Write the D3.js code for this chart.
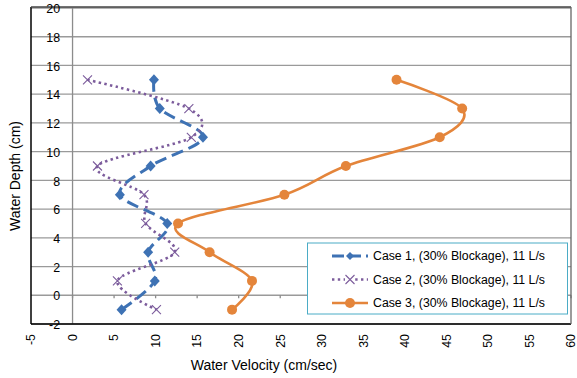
<!DOCTYPE html>
<html>
<head>
<meta charset="utf-8">
<script src="https://cdn.jsdelivr.net/npm/d3@7"></script>
<style>
  body { margin: 0; background: #fff; }
  svg { display: block; font-family: 'Liberation Sans', Arial, sans-serif; }
  .tick-label { font-size: 12.4px; fill: #000; }
  .axis-title { font-size: 14px; fill: #000; }
  .legend-text { font-size: 12.3px; fill: #000; }
</style>
</head>
<body>
<svg id="chart" width="577" height="378"></svg>
<script>
const depths = [15, 13, 11, 9, 7, 5, 3, 1, -1];
const case1 = [9.8, 10.5, 15.7, 9.4, 5.7, 11.4, 9.1, 9.9, 5.9];
const case2 = [1.8, 14.0, 14.3, 3.0, 8.6, 8.8, 12.3, 5.4, 10.1];
const case3 = [39.0, 46.9, 44.2, 32.9, 25.5, 12.7, 16.5, 21.6, 19.2];
const seriesNames = [
  'Case 1, (30% Blockage), 11 L/s',
  'Case 2, (30% Blockage), 11 L/s',
  'Case 3, (30% Blockage), 11 L/s'
];
const xTicks = d3.range(-5, 61, 5);
const yTicks = d3.range(-2, 21, 2);

const plotLeft = 31, plotRight = 571, plotTop = 8, plotBottom = 324;

const colors = ['#3e72b4', '#7c5c9c', '#e4853b'];

const xscale = d3.scaleLinear().domain([-5, 60]).range([plotLeft, plotRight]);
const yscale = d3.scaleLinear().domain([-2, 20]).range([plotBottom, plotTop]);

const svg = d3.select('#chart');

// horizontal gridlines
svg.append('g')
  .selectAll('line')
  .data(yTicks)
  .enter()
  .append('line')
  .attr('x1', plotLeft)
  .attr('x2', plotRight)
  .attr('y1', (d) => yscale(d))
  .attr('y2', (d) => yscale(d))
  .attr('stroke', '#9a9a9a')
  .attr('stroke-width', 1.3)

// vertical axis at x = 0
svg.append('line')
  .attr('x1', xscale(0))
  .attr('x2', xscale(0))
  .attr('y1', plotTop)
  .attr('y2', plotBottom)
  .attr('stroke', '#8c8c8c')
  .attr('stroke-width', 1.3)

// small ticks on the x axis (y = 0)
svg.append('g')
  .selectAll('line')
  .data(xTicks.filter((d) => d > -5))
  .enter()
  .append('line')
  .attr('x1', (d) => xscale(d))
  .attr('x2', (d) => xscale(d))
  .attr('y1', yscale(0))
  .attr('y2', yscale(0) + 3)
  .attr('stroke', '#8c8c8c')
  .attr('stroke-width', 1.3)

// plot frame
svg.append('line').attr('x1', plotLeft).attr('x2', plotLeft).attr('y1', plotTop - 1).attr('y2', plotBottom)
  .attr('stroke', '#000').attr('stroke-width', 1.5)
svg.append('line').attr('x1', plotLeft).attr('x2', plotRight).attr('y1', plotBottom).attr('y2', plotBottom)
  .attr('stroke', '#000').attr('stroke-width', 1.5)
svg.append('line').attr('x1', plotLeft).attr('x2', plotRight).attr('y1', plotTop - 1).attr('y2', plotTop - 1)
  .attr('stroke', '#444').attr('stroke-width', 1.3)
svg.append('line').attr('x1', plotRight).attr('x2', plotRight).attr('y1', plotTop - 1).attr('y2', plotBottom)
  .attr('stroke', '#666').attr('stroke-width', 1.3)

// y tick labels
svg.append('g')
  .selectAll('text')
  .data(yTicks)
  .enter()
  .append('text')
  .attr('class', 'tick-label')
  .attr('x', xscale(0) - 12.5)
  .attr('y', (d) => yscale(d))
  .attr('dy', '0.42em')
  .attr('text-anchor', 'end')
  .text((d) => d)

// x tick labels (rotated)
svg.append('g')
  .selectAll('text')
  .data(xTicks)
  .enter()
  .append('text')
  .attr('class', 'tick-label')
  .attr('text-anchor', 'end')
  .attr('transform', (d) => `translate(${xscale(d) + 4.3}, ${plotBottom + 10}) rotate(-90)`)
  .text((d) => d)

// axis titles
svg.append('text')
  .attr('class', 'axis-title')
  .attr('text-anchor', 'middle')
  .attr('transform', `translate(19.5, 176) rotate(-90)`)
  .text('Water Depth (cm)')

svg.append('text')
  .attr('class', 'axis-title')
  .attr('text-anchor', 'middle')
  .attr('x', 264)
  .attr('y', 370)
  .text('Water Velocity (cm/sec)')

// series
const allCases = [case1, case2, case3];
const dashes = ['12,6', '2.4,3.4', null];
const widths = [3, 2.6, 2.6];

const line = d3.line()
  .x((d) => xscale(d[0]))
  .y((d) => yscale(d[1]))
  .curve(d3.curveCardinal.tension(0));

const diamond = 'M0,-5.5L5,0L0,5.5L-5,0Z';
const cross = 'M-4.5,-4.5L4.5,4.5M-4.5,4.5L4.5,-4.5';

function drawMarker(g, i) {
  if (i === 0) {
    g.append('path').attr('d', diamond).attr('fill', colors[0])
  } else if (i === 1) {
    g.append('path').attr('d', cross).attr('stroke', colors[1]).attr('stroke-width', 1.1).attr('fill', 'none')
  } else {
    g.append('circle').attr('r', 5).attr('fill', colors[2])
  }
}

allCases.forEach((vals, i) => {
  const pts = vals.map((v, j) => [v, depths[j]]);
  const g = svg.append('g');
  g.append('path')
    .datum(pts)
    .attr('d', line)
    .attr('fill', 'none')
    .attr('stroke', colors[i])
    .attr('stroke-width', widths[i])
    .attr('stroke-dasharray', dashes[i])

  g.selectAll('g.m')
    .data(pts)
    .enter()
    .append('g')
    .attr('class', 'm')
    .attr('transform', (d) => `translate(${xscale(d[0])}, ${yscale(d[1])})`)
    .each(function () { drawMarker(d3.select(this), i) })
});

// legend
const legend = svg.append('g');
legend.append('rect')
  .attr('x', 307.5)
  .attr('y', 243)
  .attr('width', 260)
  .attr('height', 71)
  .attr('fill', '#fff')
  .attr('stroke', '#4bacc6')
  .attr('stroke-width', 1)

seriesNames.forEach((name, i) => {
  const ly = 256 + i * 23.5;
  legend.append('line')
    .attr('x1', 332)
    .attr('x2', 368)
    .attr('y1', ly)
    .attr('y2', ly)
    .attr('stroke', colors[i])
    .attr('stroke-width', widths[i])
    .attr('stroke-dasharray', dashes[i] ? (i === 0 ? '12,5' : '2.4,3.4') : null)
  const m = legend.append('g').attr('transform', `translate(350, ${ly})`);
  if (i === 0) {
    m.append('path').attr('d', 'M0,-4L4,0L0,4L-4,0Z').attr('fill', colors[0])
  } else if (i === 1) {
    m.append('rect').attr('x', -5).attr('y', -5).attr('width', 10).attr('height', 10).attr('fill', '#fff')
    m.append('path').attr('d', cross).attr('stroke', colors[1]).attr('stroke-width', 1.1)
  } else {
    m.append('circle').attr('r', 5).attr('fill', colors[2])
  }
  legend.append('text')
    .attr('class', 'legend-text')
    .attr('x', 373)
    .attr('y', ly)
    .attr('dy', '0.36em')
    .text(name)
});
</script>
</body>
</html>
